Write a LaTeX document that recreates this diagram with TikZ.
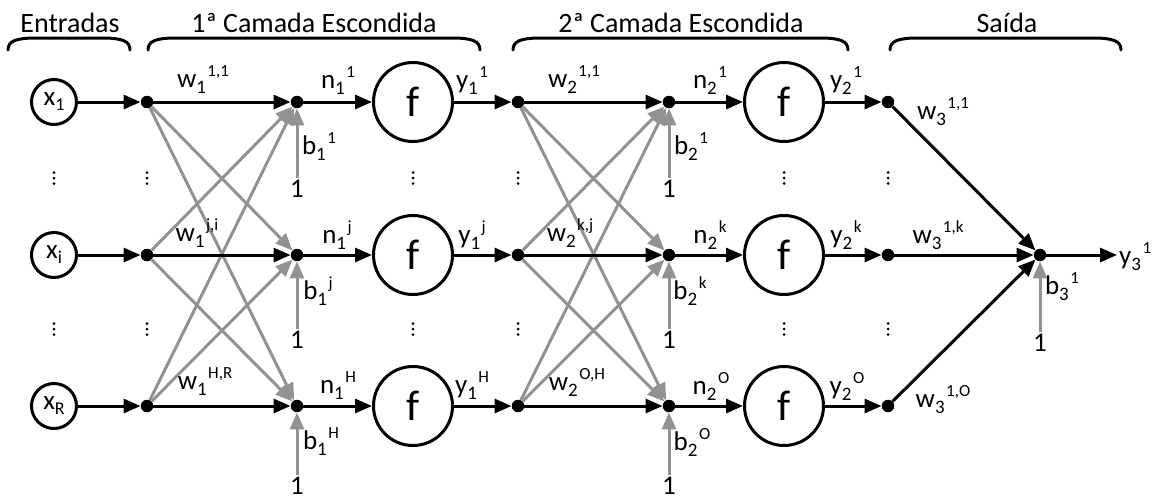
\documentclass[tikz,border=0pt]{standalone}
\usepackage{fontspec}
\setmainfont{Carlito}
\usetikzlibrary{arrows.meta}
\definecolor{wgray}{RGB}{146,146,146}
% label with subscript followed by a raised superscript
\newcommand{\sublab}[3]{#1\raisebox{-6pt}{\fontsize{19}{19}\selectfont #2}\kern1.5pt\raisebox{11pt}{\fontsize{17}{17}\selectfont #3}}
\newcommand{\subonly}[2]{#1\raisebox{-5pt}{\fontsize{18}{18}\selectfont #2}}
\tikzset{
  every node/.style={font=\fontsize{27}{27}\selectfont},
  dotnode/.style={circle,fill=black,inner sep=0pt,minimum size=12.5pt},
  innode/.style={circle,draw=black,line width=3pt,minimum size=45pt,inner sep=0pt},
  fnode/.style={circle,draw=black,line width=3pt,minimum size=79pt,inner sep=0pt,font=\fontsize{43}{43}\selectfont},
  blackarrow/.style={draw=black,line width=3pt,-{Triangle[length=17pt,width=14pt]}},
  grayarrow/.style={draw=wgray,line width=3pt,-{Triangle[length=17pt,width=14pt]}},
  txt/.style={inner sep=2pt},
  brace/.style={line width=3pt,line cap=round},
  head/.style={font=\fontsize{28}{28}\selectfont},
}
\begin{document}
\begin{tikzpicture}[x=1pt,y=-1pt]
\useasboundingbox (0,0) rectangle (1154,501);

% group headings and their braces
\node[head] (hin)  at (70,23)   {Entradas};
\node[head] (hl1)  at (314,23)  {1ª Camada Escondida};
\node[head] (hl2)  at (681,23)  {2ª Camada Escondida};
\node[head] (hout) at (1007,23) {Saída};
\foreach \xa/\xb in {8/130,148/480,513/848,890/1121}{
  \draw[brace] (\xa,50) .. controls (\xa,41) and (\xa+8,38) .. (\xa+28,38)
    -- (\xb-28,38) .. controls (\xb-8,38) and (\xb,41) .. (\xb,50);
}

% inputs
\node[innode] (x1) at (54,102) {\subonly{x}{1}};
\node[innode] (x2) at (54,255) {\subonly{x}{i}};
\node[innode] (x3) at (54,406) {\subonly{x}{R}};

% junctions, summing points and activation units
\foreach \i/\y in {1/102,2/255,3/406}{
  \node[dotnode] (a\i) at (147,\y) {};
  \node[dotnode] (s\i) at (297,\y) {};
  \node[fnode]   (f\i) at (413,\y) {f};
  \node[dotnode] (c\i) at (518,\y) {};
  \node[dotnode] (t\i) at (669,\y) {};
  \node[fnode]   (g\i) at (784,\y) {f};
  \node[dotnode] (o\i) at (888,\y) {};
}
\node[dotnode] (z) at (1040,255) {};

% bias inputs
\node[txt] (u1) at (297,189) {1};
\node[txt] (u2) at (297,340) {1};
\node[txt] (u3) at (297,486) {1};
\node[txt] (v1) at (669,189) {1};
\node[txt] (v2) at (669,340) {1};
\node[txt] (v3) at (669,486) {1};
\node[txt] (uz) at (1040,343) {1};

% cross connections (gray)
\foreach \i in {1,2,3}{
  \foreach \j in {1,2,3}{
    \ifnum\i=\j\else
      \draw[grayarrow] (a\i) -- (s\j);
      \draw[grayarrow] (c\i) -- (t\j);
    \fi
  }
  \draw[grayarrow] (u\i) -- (s\i);
  \draw[grayarrow] (v\i) -- (t\i);
}
\draw[grayarrow] (uz) -- (z);

% main signal paths (black)
\foreach \i in {1,2,3}{
  \draw[blackarrow] (x\i) -- (a\i);
  \draw[blackarrow] (a\i) -- (s\i);
  \draw[blackarrow] (s\i) -- (f\i);
  \draw[blackarrow] (f\i) -- (c\i);
  \draw[blackarrow] (c\i) -- (t\i);
  \draw[blackarrow] (t\i) -- (g\i);
  \draw[blackarrow] (g\i) -- (o\i);
  \draw[blackarrow] (o\i) -- (z);
}
\node[txt,anchor=west] (yo) at (1117,257) {\sublab{y}{3}{1}};
\draw[blackarrow] (z) -- (z -| yo.west);

% vertical ellipses
\foreach \xx in {54,147,413,518,784,888}{
  \foreach \yy in {178,329}{
    \foreach \d in {-5.5,0,5.5}{
      \fill (\xx,\yy+\d) circle (1.5);
    }
  }
}

% layer 1 labels
\node[txt] (lw11) at (203,80)  {\sublab{w}{1}{1,1}};
\node[txt] (lwji) at (197,233) {\sublab{w}{1}{j,i}};
\node[txt] (lwhr) at (205,382) {\sublab{w}{1}{H,R}};
\node[txt] (ln11) at (338,81)  {\sublab{n}{1}{1}};
\node[txt] (ln1j) at (337,235) {\sublab{n}{1}{j}};
\node[txt] (ln1h) at (338,386) {\sublab{n}{1}{H}};
\node[txt] (ly11) at (472,81)  {\sublab{y}{1}{1}};
\node[txt] (ly1j) at (472,235) {\sublab{y}{1}{j}};
\node[txt] (ly1h) at (472,386) {\sublab{y}{1}{H}};
\node[txt] (lb11) at (319,147) {\sublab{b}{1}{1}};
\node[txt] (lb1j) at (318,291) {\sublab{b}{1}{j}};
\node[txt] (lb1h) at (321,442) {\sublab{b}{1}{H}};

% layer 2 labels
\node[txt] (lw211) at (574,80)  {\sublab{w}{2}{1,1}};
\node[txt] (lw2kj) at (570,233) {\sublab{w}{2}{k,j}};
\node[txt] (lw2oh) at (577,382) {\sublab{w}{2}{O,H}};
\node[txt] (ln21)  at (710,81)  {\sublab{n}{2}{1}};
\node[txt] (ln2k)  at (710,235) {\sublab{n}{2}{k}};
\node[txt] (ln2o)  at (711,386) {\sublab{n}{2}{O}};
\node[txt] (ly21)  at (846,81)  {\sublab{y}{2}{1}};
\node[txt] (ly2k)  at (846,235) {\sublab{y}{2}{k}};
\node[txt] (ly2o)  at (847,386) {\sublab{y}{2}{O}};
\node[txt] (lb21)  at (691,147) {\sublab{b}{2}{1}};
\node[txt] (lb2k)  at (690,291) {\sublab{b}{2}{k}};
\node[txt] (lb2o)  at (692,442) {\sublab{b}{2}{O}};

% output layer labels
\node[txt] (lw311) at (943,112) {\sublab{w}{3}{1,1}};
\node[txt] (lw31k) at (938,235) {\sublab{w}{3}{1,k}};
\node[txt] (lw31o) at (943,400) {\sublab{w}{3}{1,O}};
\node[txt] (lb31)  at (1062,287) {\sublab{b}{3}{1}};
\end{tikzpicture}
\end{document}
